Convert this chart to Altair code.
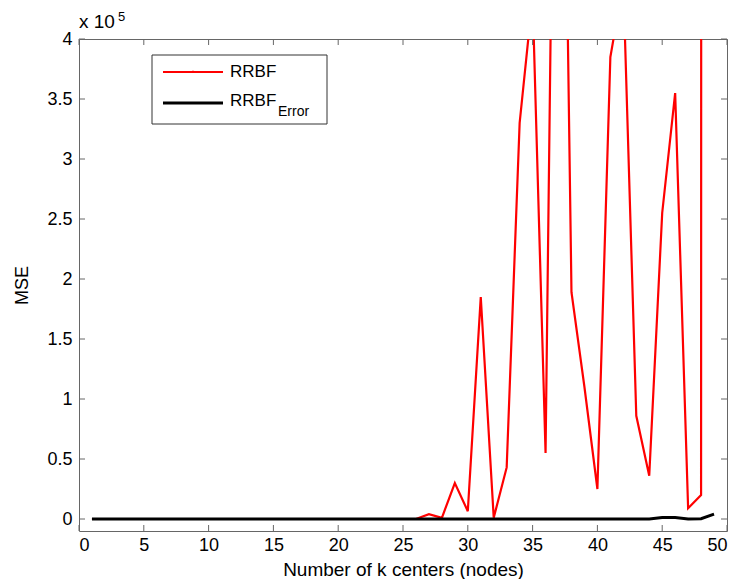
import altair as alt
import pandas as pd

# ---- data (MSE values in units of 10^5) ----
k_centers = list(range(1, 50))
rrbf = [0, 0, 0, 0, 0, 0, 0, 0, 0, 0,
        0, 0, 0, 0, 0, 0, 0, 0, 0, 0,
        0, 0, 0, 0, 0, 0.0, 0.04, 0.01, 0.30, 0.065,
        1.85, 0.01, 0.43, 3.3, 4.35, 0.55, 9.5, 1.89, 1.1, 0.25,
        3.85, 4.47, 0.86, 0.36, 2.55, 3.55, 0.09, 0.2, 500]
rrbf_error = [0, 0, 0, 0, 0, 0, 0, 0, 0, 0,
              0, 0, 0, 0, 0, 0, 0, 0, 0, 0,
              0, 0, 0, 0, 0, 0, 0, 0, 0, 0,
              0, 0, 0, 0, 0, 0, 0, 0, 0, 0,
              0, 0, 0, 0, 0.012, 0.012, 0.001, 0.003, 0.04]
x_ticks = [0, 5, 10, 15, 20, 25, 30, 35, 40, 45, 50]
y_ticks = [0, 0.5, 1, 1.5, 2, 2.5, 3, 3.5, 4]

W, H = 648, 492
FONT = "Liberation Sans"
FRAME = "#666666"

df = pd.DataFrame({"k": k_centers, "rrbf": rrbf, "err": rrbf_error})
xt = pd.DataFrame({"xt": x_ticks})
yt = pd.DataFrame({"yt": y_ticks})
one = pd.DataFrame({"a": [0]})

xscale = alt.Scale(domain=[0, 50], nice=False, zero=False)
yscale = alt.Scale(domain=[-0.1, 4], nice=False, zero=False)

x_axis = alt.Axis(values=x_ticks, tickSize=0, domain=False, grid=False, format="~g",
                  labelFont=FONT, labelFontSize=18, labelColor="black",
                  labelPadding=5, title="Number of k centers (nodes)",
                  titleFont=FONT, titleFontSize=19, titleFontWeight="normal",
                  titleColor="black", titlePadding=6)
y_axis = alt.Axis(values=y_ticks, tickSize=0, domain=False, grid=False, format="~g",
                  labelFont=FONT, labelFontSize=18, labelColor="black",
                  labelPadding=7, title="MSE",
                  titleFont=FONT, titleFontSize=18, titleFontWeight="normal",
                  titleColor="black", titlePadding=15)

X = lambda f: alt.X(f, scale=xscale, axis=x_axis)
Y = lambda f: alt.Y(f, scale=yscale, axis=y_axis)

red = alt.Chart(df).mark_line(color="#ff0000", strokeWidth=2.2, clip=True).encode(
    x=X("k:Q"), y=Y("rrbf:Q"))
black = alt.Chart(df).mark_line(color="black", strokeWidth=3, clip=True).encode(
    x=X("k:Q"), y=Y("err:Q"))

# inward tick marks on all four sides
tb = alt.Chart(xt).mark_rule(color=FRAME, strokeWidth=1).encode(
    x=X("xt:Q"), y=alt.value(H), y2=alt.value(H - 6))
tt = alt.Chart(xt).mark_rule(color=FRAME, strokeWidth=1).encode(
    x=X("xt:Q"), y=alt.value(0), y2=alt.value(6))
tl = alt.Chart(yt).mark_rule(color=FRAME, strokeWidth=1).encode(
    y=Y("yt:Q"), x=alt.value(0), x2=alt.value(6))
tr = alt.Chart(yt).mark_rule(color=FRAME, strokeWidth=1).encode(
    y=Y("yt:Q"), x=alt.value(W), x2=alt.value(W - 6))

# exponent label
exp_base = alt.Chart(one).mark_text(font=FONT, fontSize=19, align="left",
                                    baseline="middle", color="black").encode(
    x=alt.value(0), y=alt.value(-17), text=alt.value("x 10"))
exp_sup = alt.Chart(one).mark_text(font=FONT, fontSize=13, align="left",
                                   baseline="top", color="black").encode(
    x=alt.value(39), y=alt.value(-28), text=alt.value("5"))

# legend (drawn manually for the subscript)
leg_box = alt.Chart(one).mark_rect(fill="white", stroke="#333333", strokeWidth=1).encode(
    x=alt.value(73), x2=alt.value(248), y=alt.value(16), y2=alt.value(85))
leg_red = alt.Chart(one).mark_rule(color="#ff0000", strokeWidth=2.2).encode(
    x=alt.value(84), x2=alt.value(144), y=alt.value(33))
leg_red_pt = alt.Chart(one).mark_point(color="#ff0000", filled=True, size=6,
                                       shape="triangle-up").encode(
    x=alt.value(114), y=alt.value(32))
leg_blk = alt.Chart(one).mark_rule(color="black", strokeWidth=3).encode(
    x=alt.value(84), x2=alt.value(144), y=alt.value(64))
leg_t1 = alt.Chart(one).mark_text(font=FONT, fontSize=17, align="left",
                                  baseline="middle", color="black").encode(
    x=alt.value(151), y=alt.value(33), text=alt.value("RRBF"))
leg_t2 = alt.Chart(one).mark_text(font=FONT, fontSize=17, align="left",
                                  baseline="middle", color="black").encode(
    x=alt.value(151), y=alt.value(62), text=alt.value("RRBF"))
leg_t3 = alt.Chart(one).mark_text(font=FONT, fontSize=14, align="left",
                                  baseline="middle", color="black").encode(
    x=alt.value(199), y=alt.value(73), text=alt.value("Error"))

chart = alt.layer(
    red, black, tb, tt, tl, tr, exp_base, exp_sup,
    leg_box, leg_red, leg_red_pt, leg_blk, leg_t1, leg_t2, leg_t3,
).properties(
    width=W, height=H,
    autosize=alt.AutoSizeParams(type="none"),
    padding={"left": 71, "top": 31, "right": 4, "bottom": 48},
).configure(font=FONT).configure_view(stroke=FRAME, strokeWidth=1)

chart.save("out.html", embed_options={"renderer": "svg", "actions": False})
